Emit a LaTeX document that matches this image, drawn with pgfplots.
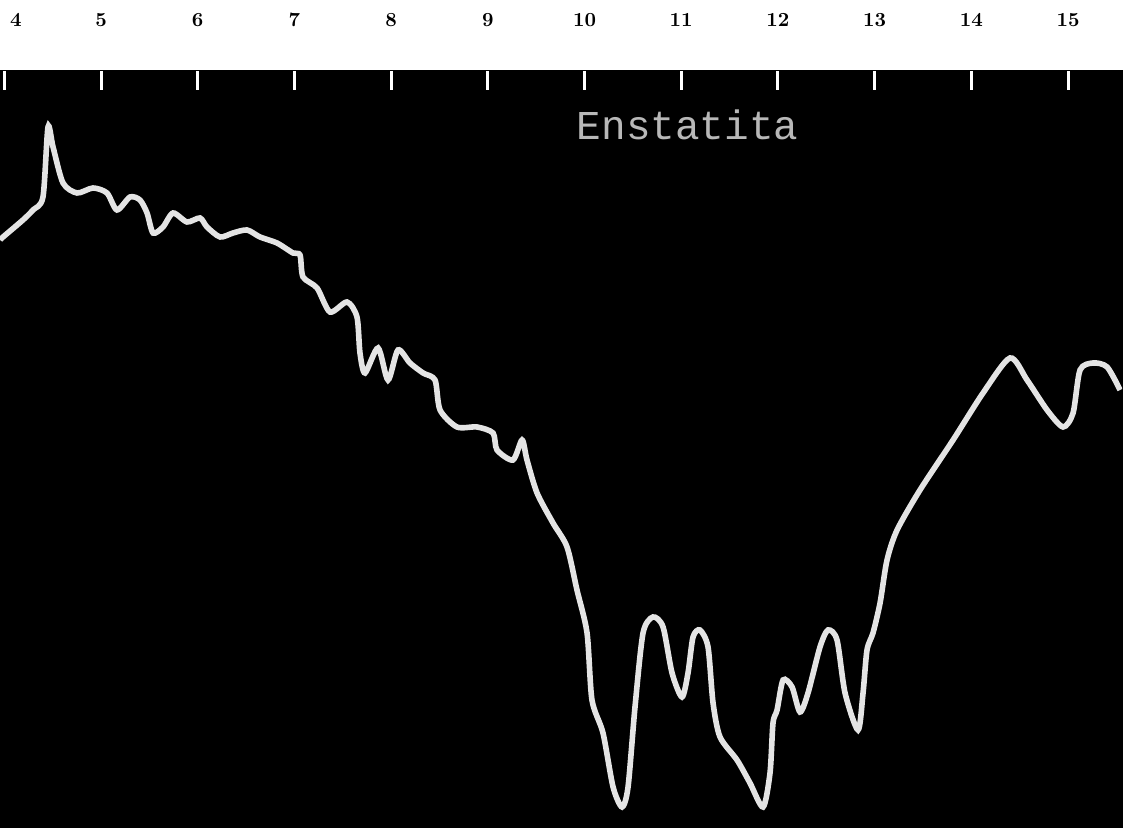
\documentclass[border=0pt]{standalone}
\usepackage{pgfplots}
\pgfplotsset{compat=1.18}
\usepackage{fontspec}
\newfontfamily\typewriter{Liberation Mono}
\definecolor{trace}{HTML}{E4E4E4}
\definecolor{labelgray}{HTML}{B8B8B8}
\begin{document}
\begin{tikzpicture}
\begin{axis}[
  scale only axis,
  width=561pt, height=379pt,
  xmin=3.9555, xmax=15.558,
  ymin=0, ymax=758,
  axis background/.style={fill=black},
  axis line style={draw=black},
  xtick={4,5,6,7,8,9,10,11,12,13,14,15},
  xticklabels={\hphantom{44}4,5,6,7,8,9,10,11,12,13,14,15},
  xtick pos=upper, xticklabel pos=upper,
  tick align=inside,
  major tick length=10pt,
  xtick style={draw=white, line width=1.5pt},
  ytick=\empty,
  xticklabel style={anchor=base, yshift=21.5pt, font=\fontsize{10}{12}\selectfont\bfseries},
  /pgf/number format/assume math mode=true,
  clip=true,
]
\addplot[color=trace, line width=2.8pt, smooth, tension=0.45] coordinates {
(3.956,588) (3.987,591) (4.193,608) (4.297,618) (4.400,631) (4.452,701) (4.504,681)
(4.607,645) (4.752,635) (4.917,640) (5.062,635) (5.165,618) (5.300,631) (5.403,628)
(5.476,615) (5.538,595) (5.641,601) (5.745,615) (5.889,606) (6.024,610) (6.096,601)
(6.231,591) (6.365,595) (6.510,598) (6.644,591) (6.820,585) (6.985,575) (7.058,573)
(7.089,551) (7.234,540) (7.368,516) (7.544,526) (7.647,511) (7.678,475) (7.730,455)
(7.865,480) (7.968,448) (8.071,478) (8.195,465) (8.330,455) (8.454,448) (8.506,418)
(8.681,401) (8.888,401) (9.054,395) (9.095,378) (9.260,368) (9.354,388) (9.405,368)
(9.509,335) (9.674,305) (9.819,281) (9.922,238) (10.026,195) (10.077,128) (10.191,95)
(10.295,41) (10.388,21) (10.450,41) (10.522,121) (10.605,195) (10.708,211) (10.812,201)
(10.905,155) (11.008,131) (11.070,155) (11.122,191) (11.194,198) (11.277,181) (11.329,125)
(11.401,91) (11.577,68) (11.711,45) (11.846,21) (11.918,55) (11.949,105) (11.991,118)
(12.053,148) (12.146,141) (12.228,116) (12.311,135) (12.435,181) (12.518,198) (12.611,188)
(12.694,135) (12.828,98) (12.880,135) (12.921,178) (12.983,195) (13.056,225) (13.128,268)
(13.232,298) (13.469,338) (13.811,388) (14.121,435) (14.400,470) (14.576,448) (14.783,418)
(14.948,401) (15.052,415) (15.124,458) (15.259,465) (15.404,461) (15.538,438)
};
\node[text=labelgray, font=\typewriter\fontsize{20.5}{22}\selectfont, inner sep=0pt] at (axis cs:11.065,703) {Enstatita};
\coordinate (bl) at (rel axis cs:0,0);
\end{axis}
\pgfresetboundingbox
\path[use as bounding box] (bl) rectangle ++(566.5pt,414pt);
\end{tikzpicture}
\end{document}
